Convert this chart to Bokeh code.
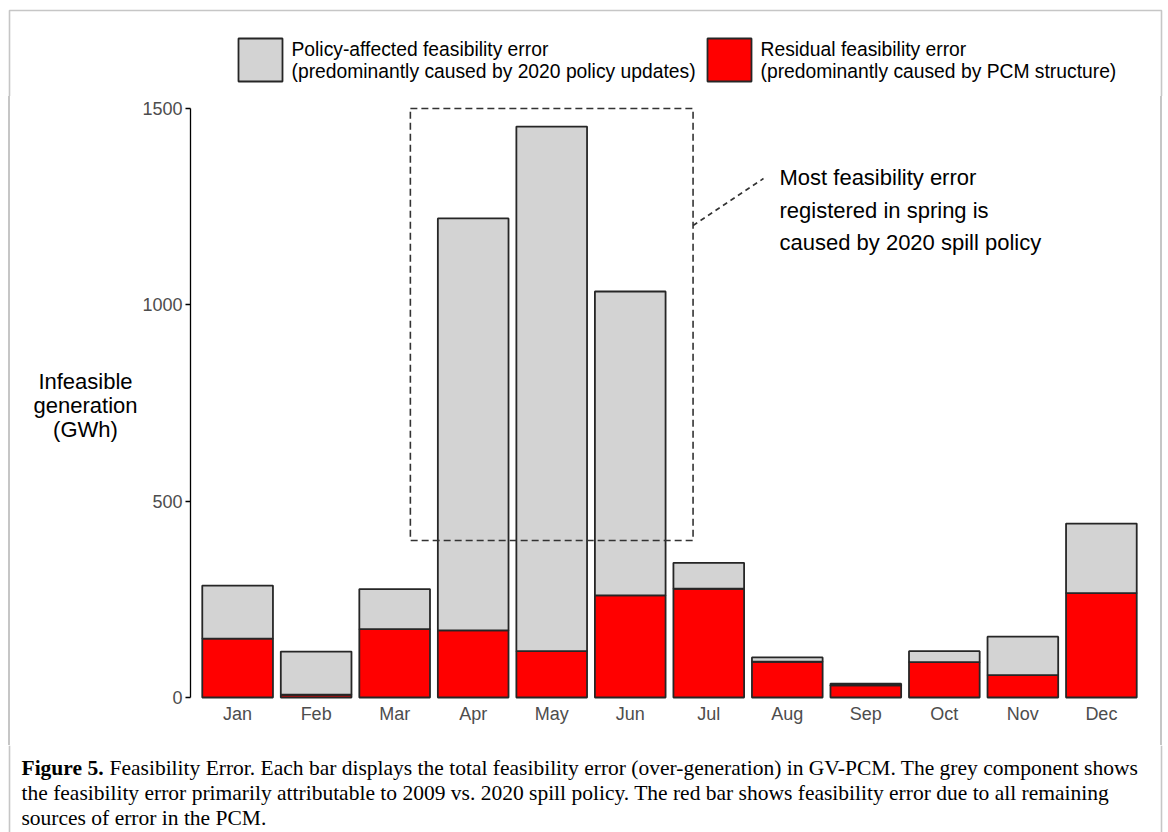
from bokeh.plotting import figure
from bokeh.layouts import column, row
from bokeh.models import ColumnDataSource, Range1d, FixedTicker, Label
from bokeh.embed import file_html
from bokeh.resources import INLINE

# Monthly infeasible generation (GWh), split into its two components
months = ["Jan", "Feb", "Mar", "Apr", "May", "Jun",
          "Jul", "Aug", "Sep", "Oct", "Nov", "Dec"]
residual = [150, 7, 174, 171, 118, 260, 277, 91, 31, 90, 57, 266]
policy = [135, 110, 102, 1049, 1336, 774, 66, 11, 4, 28, 98, 177]
y_ticks = [0, 500, 1000, 1500]

# spring window highlighted by the dashed box (month positions, GWh)
spring_months = (3.2, 6.8)
spring_gwh = (400, 1500)

legend_labels = [
    ["Policy-affected feasibility error",
     "(predominantly caused by 2020 policy updates)"],
    ["Residual feasibility error",
     "(predominantly caused by PCM structure)"],
]
note_lines = ["Most feasibility error", "registered in spring is",
              "caused by 2020 spill policy"]
y_title = ["Infeasible", "generation", "(GWh)"]

GREY = "#d3d3d3"
RED = "#ff0000"
EDGE = "#262626"
RULE = "#c6c6c6"
SANS = "Liberation Sans"
SERIF = "Liberation Serif"

# page layout (pixels)
W, H = 1168, 832
W_L = 138                  # strip holding the y title
H_T, H_B = 96, 87          # legend strip / caption strip
W_M = W - W_L
H_M = H - H_T - H_B
BX0, BX1, BY0 = 9, 1161, 10          # light page frame

# main plot frame in page pixels
FL, FR, FT, FB = 190, 1148, 100, 699
X0, X1 = 0.4, 12.6
Y0, Y1 = -5.1, 1520.4


def dx(px):
    """page x pixel -> main chart data x"""
    return X0 + (px - FL) * (X1 - X0) / (FR - FL)


def dy(py):
    """page y pixel (from top) -> main chart data y"""
    return Y0 + (FB - py) * (Y1 - Y0) / (FB - FT)


def panel(w, h, y_top=0, y_bottom=None, **kw):
    """blank figure whose data units are page pixels, y measured from the top"""
    y_bottom = h if y_bottom is None else y_bottom
    f = figure(width=w, height=h, x_range=Range1d(0, w),
               y_range=Range1d(y_bottom, y_top),
               x_axis_type=None, y_axis_type=None,
               output_backend="svg", toolbar_location=None, **kw)
    f.outline_line_color = None
    f.grid.visible = False
    return f


def text(f, x, y, s, size, font=SANS, align="left", style="normal"):
    f.add_layout(Label(x=x, y=y, text=s, text_align=align,
                       text_baseline="middle", text_font=font,
                       text_font_style=style, text_font_size=size,
                       text_color="black"))


# ---- main chart -----------------------------------------------------------
p = figure(width=W_M, height=H_M, x_range=Range1d(X0, X1),
           y_range=Range1d(Y0, Y1), output_backend="svg", toolbar_location=None,
           min_border_left=FL - W_L, min_border_right=W - FR,
           min_border_top=FT - H_T, min_border_bottom=(H_T + H_M) - FB)
p.outline_line_color = None
p.xgrid.visible = False
p.ygrid.visible = False
p.background_fill_color = "white"
p.border_fill_color = None

src = ColumnDataSource(dict(x=list(range(1, len(months) + 1)), month=months,
                            residual=residual, policy=policy))
p.vbar_stack(["residual", "policy"], x="x", width=0.9, source=src,
             fill_color=[RED, GREY], line_color=EDGE, line_width=1.8)

p.xaxis.ticker = FixedTicker(ticks=list(range(1, len(months) + 1)))
p.xaxis.major_label_overrides = {i + 1: m for i, m in enumerate(months)}
p.xaxis.axis_line_color = None
p.xaxis.major_tick_line_color = None
p.xaxis.major_tick_out = 0
p.xaxis.major_tick_in = 0
p.xaxis.minor_tick_line_color = None
p.xaxis.major_label_standoff = 4
p.xaxis.major_label_text_font = SANS
p.xaxis.major_label_text_font_size = "18px"
p.xaxis.major_label_text_color = "#4d4d4d"

p.yaxis.ticker = FixedTicker(ticks=y_ticks)
p.yaxis.bounds = (0, 1500)
p.yaxis.axis_line_color = "black"
p.yaxis.axis_line_width = 1.3
p.yaxis.major_tick_line_color = "black"
p.yaxis.major_tick_line_width = 1.3
p.yaxis.major_tick_out = 5
p.yaxis.major_tick_in = 0
p.yaxis.minor_tick_line_color = None
p.yaxis.major_label_standoff = 3
p.yaxis.major_label_text_font = SANS
p.yaxis.major_label_text_font_size = "18px"
p.yaxis.major_label_text_color = "#4d4d4d"

# dashed box around the spring months and its leader line
p.quad(left=[spring_months[0]], right=[spring_months[1]],
       bottom=[spring_gwh[0]], top=[spring_gwh[1]],
       fill_color=None, line_color="#333333", line_width=1.6, line_dash="7 4")
p.line(x=[spring_months[1], dx(763)], y=[dy(225), dy(178)],
       line_color="#333333", line_width=1.6, line_dash="5 4")
for i, s in enumerate(note_lines):
    text(p, dx(779), dy(177 + 32.5 * i), s, "22px")

# ---- y title strip (left of the chart), frame aligned with the chart ------
left_strip = panel(W_L, H_M, y_top=FT, y_bottom=FB,
                   min_border_left=0, min_border_right=0,
                   min_border_top=FT - H_T, min_border_bottom=(H_T + H_M) - FB)
left_strip.background_fill_color = None
left_strip.border_fill_color = None
for i, s in enumerate(y_title):
    text(left_strip, 85, 381 + 24 * i, s, "22px", align="center")

# page frame sides along the chart band, painted behind the transparent canvases
side_rules = ("linear-gradient({c},{c}) {a}px 0 / 2px 100% no-repeat, "
              "linear-gradient({c},{c}) {b}px 0 / 2px 100% no-repeat, white"
              ).format(c=RULE, a=BX0 - 1, b=BX1 - 1)
middle = row(left_strip, p, spacing=0, styles={"background": side_rules})

# ---- legend strip (top) ---------------------------------------------------
top = panel(W, H_T, min_border=0)
top.background_fill_color = "white"
top.border_fill_color = "white"
top.line(x=[BX0, BX0, BX1, BX1], y=[H_T, BY0, BY0, H_T],
         line_color=RULE, line_width=1.6)
for color, left, lines in zip([GREY, RED], [238, 707], legend_labels):
    top.quad(left=[left], right=[left + 44], top=[38], bottom=[81],
             fill_color=color, line_color=EDGE, line_width=1.8)
    for i, s in enumerate(lines):
        text(top, left + 53, 49 + 22 * i, s, "19.3px")

# ---- caption strip (bottom) -----------------------------------------------
bottom = panel(W, H_B, min_border=0)
bottom.background_fill_color = "white"
bottom.border_fill_color = "white"
bottom.line(x=[BX0, BX0], y=[0, H_B], line_color=RULE, line_width=1.6)
bottom.line(x=[BX1, BX1], y=[0, H_B], line_color=RULE, line_width=1.6)
cap_x, cap_y = 21, 767 - (H_T + H_M)
text(bottom, cap_x, cap_y, "Figure 5.", "21.5px", font=SERIF, style="bold")
caption = [
    (cap_x + 88, "Feasibility Error. Each bar displays the total feasibility error "
                 "(over-generation) in GV-PCM. The grey component shows"),
    (cap_x, "the feasibility error primarily attributable to 2009 vs. 2020 spill "
            "policy. The red bar shows feasibility error due to all remaining"),
    (cap_x, "sources of error in the PCM."),
]
for i, (x_px, s) in enumerate(caption):
    text(bottom, x_px, cap_y + 25 * i, s, "21.5px", font=SERIF)

page = column(top, middle, bottom, spacing=0)
open("out.html", "w").write(file_html(page, INLINE))
